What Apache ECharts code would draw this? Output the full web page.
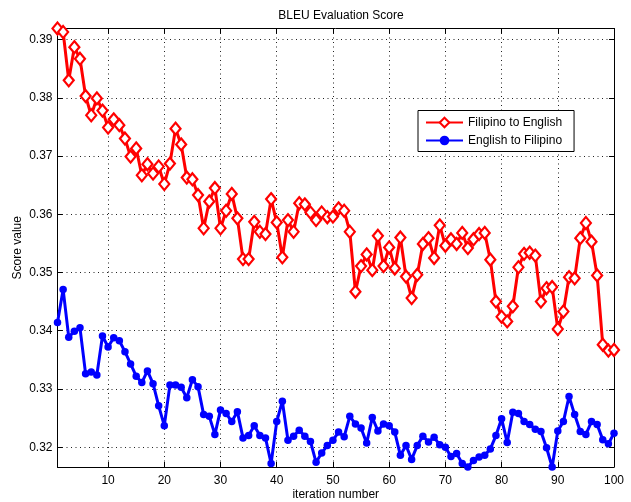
<!DOCTYPE html>
<html>
<head>
<meta charset="utf-8">
<script src="https://cdn.jsdelivr.net/npm/echarts@6/dist/echarts.min.js"></script>
<style>
  html, body { margin: 0; padding: 0; background: #fff; }
  #chart { width: 631px; height: 502px; }
</style>
</head>
<body>
<div id="chart"></div>
<script>
// BLEU score per training iteration, for both translation directions
const iterations = Array.from({ length: 100 }, (_, i) => i + 1);

const filipinoToEnglish = [
  0.3919, 0.3913, 0.3830, 0.3887, 0.3867, 0.3803, 0.3770, 0.3799, 0.3778, 0.3749,
  0.3763, 0.3753, 0.3730, 0.3699, 0.3713, 0.3667, 0.3686, 0.3670, 0.3682, 0.3652,
  0.3687, 0.3747, 0.3720, 0.3663, 0.3660, 0.3633, 0.3576, 0.3622, 0.3645, 0.3576,
  0.3606, 0.3635, 0.3593, 0.3523, 0.3523, 0.3587, 0.3570, 0.3566, 0.3626, 0.3586,
  0.3526, 0.3590, 0.3570, 0.3619, 0.3617, 0.3603, 0.3590, 0.3603, 0.3595, 0.3596,
  0.3610, 0.3606, 0.3570, 0.3467, 0.3511, 0.3531, 0.3504, 0.3563, 0.3511, 0.3543,
  0.3507, 0.3560, 0.3493, 0.3456, 0.3496, 0.3549, 0.3559, 0.3525, 0.3581, 0.3546,
  0.3557, 0.3549, 0.3568, 0.3542, 0.3557, 0.3566, 0.3568, 0.3522, 0.3450, 0.3424,
  0.3416, 0.3442, 0.3509, 0.3532, 0.3534, 0.3529, 0.3450, 0.3473, 0.3475, 0.3403,
  0.3433, 0.3492, 0.3490, 0.3559, 0.3585, 0.3553, 0.3495, 0.3376, 0.3366, 0.3367
];

const englishToFilipino = [
  0.3414, 0.3471, 0.3389, 0.3399, 0.3405, 0.3326, 0.3329, 0.3324, 0.3391, 0.3372,
  0.3388, 0.3383, 0.3364, 0.3343, 0.3322, 0.3311, 0.3331, 0.3309, 0.3271, 0.3237,
  0.3307, 0.3307, 0.3303, 0.3285, 0.3316, 0.3304, 0.3256, 0.3253, 0.3222, 0.3264,
  0.3258, 0.3244, 0.3261, 0.3216, 0.3220, 0.3237, 0.3220, 0.3216, 0.3172, 0.3244,
  0.3279, 0.3212, 0.3219, 0.3229, 0.3219, 0.3210, 0.3174, 0.3190, 0.3203, 0.3212,
  0.3226, 0.3218, 0.3253, 0.3240, 0.3233, 0.3207, 0.3251, 0.3228, 0.3240, 0.3237,
  0.3226, 0.3186, 0.3203, 0.3179, 0.3203, 0.3219, 0.3209, 0.3217, 0.3204, 0.3200,
  0.3184, 0.3189, 0.3172, 0.3166, 0.3177, 0.3183, 0.3186, 0.3197, 0.3220, 0.3249,
  0.3208, 0.3260, 0.3258, 0.3244, 0.3239, 0.3231, 0.3227, 0.3199, 0.3166, 0.3228,
  0.3244, 0.3287, 0.3256, 0.3227, 0.3222, 0.3244, 0.3239, 0.3213, 0.3206, 0.3224
];

const seriesNames = ['Filipino to English', 'English to Filipino'];

// Axis limits hug the data (tight axes)
const xMin = 1, xMax = 100;
const yMin = 0.3166, yMax = 0.3919;

const FONT = 'Liberation Sans, Arial, Helvetica, sans-serif';
const gridDots = { color: '#222', width: 1, type: [1, 3.5] };

const pairs = (ys) => ys.map((v, i) => [iterations[i], v]);

const baseX = {
  type: 'value', min: xMin, max: xMax, splitNumber: 10,
  axisLine: { show: true, onZero: false, lineStyle: { color: '#000', width: 1 } },
  axisTick: { show: true, inside: true, length: 5, lineStyle: { color: '#000' } },
};
const baseY = {
  type: 'value', min: yMin, max: yMax, splitNumber: 8,
  axisLine: { show: true, onZero: false, lineStyle: { color: '#000', width: 1 } },
  axisTick: { show: true, inside: true, length: 5, lineStyle: { color: '#000' } },
};

const chart = echarts.init(document.getElementById('chart'), null, { renderer: 'canvas' });

chart.setOption({
  animation: false,
  backgroundColor: '#fff',
  textStyle: { fontFamily: FONT },
  title: {
    text: 'BLEU Evaluation Score',
    left: 336, top: 5, textAlign: 'center',
    textStyle: { fontFamily: FONT, fontSize: 12, fontWeight: 'normal', color: '#000' }
  },
  // fixed plot rectangle; labels may sit in the margins
  grid: {
    left: 57.5, top: 28.5, width: 556.5, height: 438.5,
    containLabel: false, outerBoundsMode: 'none'
  },
  legend: {
    orient: 'vertical',
    left: 418, top: 110.5,
    padding: [6, 12, 5, 7],
    itemGap: 6,
    itemWidth: 37, itemHeight: 12,
    backgroundColor: '#fff',
    borderColor: '#000', borderWidth: 1, borderRadius: 0,
    textStyle: { fontFamily: FONT, fontSize: 12, color: '#000' },
    data: seriesNames
  },
  xAxis: [
    Object.assign({}, baseX, {
      position: 'bottom',
      name: 'iteration number', nameLocation: 'middle', nameGap: 22,
      nameMoveOverlap: false,
      nameTextStyle: { fontFamily: FONT, fontSize: 12, color: '#000' },
      axisLabel: { color: '#000', fontSize: 12, fontFamily: FONT, margin: 8, showMinLabel: false },
      splitLine: { show: true, lineStyle: gridDots }
    }),
    Object.assign({}, baseX, {
      position: 'top',
      axisLabel: { show: false },
      splitLine: { show: false }
    })
  ],
  yAxis: [
    Object.assign({}, baseY, {
      position: 'left',
      name: 'Score value', nameLocation: 'middle', nameGap: 34, nameRotate: 90,
      nameMoveOverlap: false,
      nameTextStyle: { fontFamily: FONT, fontSize: 12, color: '#000' },
      axisLabel: {
        color: '#000', fontSize: 12, fontFamily: FONT, margin: 5,
        showMinLabel: false, showMaxLabel: false,
        formatter: (v) => v.toFixed(2)
      },
      splitLine: { show: true, lineStyle: gridDots }
    }),
    Object.assign({}, baseY, {
      position: 'right',
      axisLabel: { show: false },
      splitLine: { show: false }
    })
  ],
  series: [
    {
      name: seriesNames[0],
      type: 'line',
      xAxisIndex: 0, yAxisIndex: 0,
      data: pairs(filipinoToEnglish),
      showAllSymbol: true,
      symbol: 'diamond',
      symbolSize: [10, 12],
      lineStyle: { color: '#ff0000', width: 3 },
      itemStyle: { color: '#ffffff', borderColor: '#ff0000', borderWidth: 2.2 },
      z: 3
    },
    {
      name: seriesNames[1],
      type: 'line',
      xAxisIndex: 0, yAxisIndex: 0,
      data: pairs(englishToFilipino),
      showAllSymbol: true,
      symbol: 'circle',
      symbolSize: 7.5,
      lineStyle: { color: '#0000ff', width: 3 },
      itemStyle: { color: '#0000ff', borderColor: '#0000ff', borderWidth: 0 },
      z: 2
    }
  ]
});
</script>
</body>
</html>
